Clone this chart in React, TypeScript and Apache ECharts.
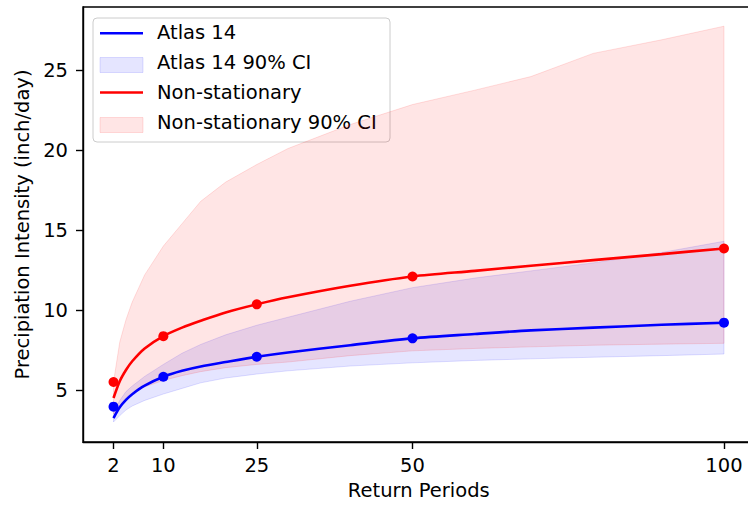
import React, { useEffect, useRef } from "react";
import * as echarts from "echarts";

// Return periods with plotted markers
const returnPeriods = [2, 10, 25, 50, 100];
const atlas14Points = [3.96, 5.83, 7.08, 8.23, 9.21];
const nonStationaryPoints = [5.5, 8.37, 10.36, 12.1, 13.85];

// Curves and confidence bands
const curveX = [2, 3, 4, 5, 7, 10, 13, 16, 20, 25, 30, 40, 50, 60, 69, 79, 90, 100];
const atlas14Curve = [3.25, 3.92, 4.38, 4.74, 5.27, 5.83, 6.2, 6.47, 6.75, 7.08, 7.35, 7.8, 8.23, 8.5, 8.73, 8.9, 9.08, 9.21];
const nonStationaryCurve = [4.5, 5.55, 6.25, 6.8, 7.6, 8.37, 8.9, 9.33, 9.85, 10.36, 10.8, 11.52, 12.1, 12.45, 12.77, 13.12, 13.5, 13.85];
const atlas14Lower = [3.0, 3.4, 3.75, 4.0, 4.35, 4.75, 5.1, 5.45, 5.75, 6.0, 6.2, 6.5, 6.7, 6.85, 6.95, 7.05, 7.15, 7.25];
const atlas14Upper = [3.6, 4.35, 4.9, 5.25, 5.85, 6.6, 7.3, 7.85, 8.45, 9.05, 9.55, 10.55, 11.4, 12.0, 12.45, 12.95, 13.6, 14.3];
const nsLower = [3.5, 3.95, 4.35, 4.75, 5.2, 5.6, 5.9, 6.15, 6.4, 6.6, 6.75, 7.15, 7.45, 7.6, 7.7, 7.8, 7.87, 7.92];
const nsUpper = [5.5, 8.0, 9.4, 10.5, 12.2, 14.0, 15.4, 16.8, 18.0, 19.1, 20.1, 21.6, 22.85, 23.75, 24.6, 26.05, 26.9, 27.75];

const xTicks = [2, 10, 25, 50, 100];
const yTicks = [5, 10, 15, 20, 25];

const legendLabels = ["Atlas 14", "Atlas 14 90% CI", "Non-stationary", "Non-stationary 90% CI"];

const FONT = "DejaVu Sans";
const FS = 19.5;

const pairs = (xs: number[], ys: number[]) => xs.map((x, i) => [x, ys[i]]);

function bandSeries(name: string, xs: number[], lo: number[], hi: number[], fill: string, stroke: string) {
  return {
    name,
    type: "custom",
    data: xs.map((x, i) => [x, lo[i], hi[i]]),
    encode: { x: 0, y: [1, 2] },
    z: 1,
    silent: true,
    renderItem: (params: any, api: any) => {
      if (params.dataIndex !== 0) return null;
      const top = xs.map((x, i) => api.coord([x, hi[i]]));
      const bottom = xs.map((x, i) => api.coord([x, lo[i]])).reverse();
      return {
        type: "polygon",
        shape: { points: top.concat(bottom) },
        style: { fill, stroke, lineWidth: 1 },
      };
    },
  };
}

export default function App() {
  const ref = useRef<HTMLDivElement>(null);
  useEffect(() => {
    if (!ref.current) return;
    const chart = echarts.init(ref.current, null, { renderer: "svg" });
    const blueFill = "rgba(0,0,255,0.1)";
    const redFill = "rgba(255,0,0,0.1)";
    const blueEdge = "rgba(0,0,255,0.12)";
    const redEdge = "rgba(255,0,0,0.12)";
    const legendRows = [33.3, 62.5, 92.5, 122.5];
    chart.setOption({
      animation: false,
      backgroundColor: "#ffffff",
      grid: {
        left: 83,
        top: 7,
        width: 671.5,
        height: 435,
        show: true,
        borderColor: "#000",
        borderWidth: 1.4,
        backgroundColor: "transparent",
        containLabel: false,
        outerBoundsMode: "none",
      },
      xAxis: {
        type: "value",
        min: -2.9,
        max: 104.9,
        name: "Return Periods",
        nameLocation: "middle",
        nameGap: 38,
        nameTextStyle: { fontFamily: FONT, fontSize: FS, color: "#000" },
        axisLine: { show: true, onZero: false, lineStyle: { color: "#000", width: 1.4 } },
        axisTick: { show: true, length: 7, lineStyle: { color: "#000", width: 1.4 }, customValues: xTicks },
        axisLabel: { fontFamily: FONT, fontSize: FS, color: "#000", margin: 13.5, customValues: xTicks },
        splitLine: { show: false },
      },
      yAxis: {
        type: "value",
        min: 1.75,
        max: 28.95,
        name: "Precipiation Intensity (inch/day)",
        nameLocation: "middle",
        nameGap: 51,
        nameRotate: 90,
        nameTextStyle: { fontFamily: FONT, fontSize: FS, color: "#000" },
        axisLine: { show: true, onZero: false, lineStyle: { color: "#000", width: 1.4 } },
        axisTick: { show: true, length: 7, lineStyle: { color: "#000", width: 1.4 }, customValues: yTicks },
        axisLabel: { fontFamily: FONT, fontSize: FS, color: "#000", margin: 15, customValues: yTicks },
        splitLine: { show: false },
      },
      series: [
        bandSeries("Atlas 14 90% CI", curveX, atlas14Lower, atlas14Upper, blueFill, blueEdge),
        bandSeries("Non-stationary 90% CI", curveX, nsLower, nsUpper, redFill, redEdge),
        {
          name: "Atlas 14",
          type: "line",
          data: pairs(curveX, atlas14Curve),
          symbol: "none",
          smooth: 0.3,
          lineStyle: { color: "#0000ff", width: 2.6 },
          z: 3,
        },
        {
          name: "Non-stationary",
          type: "line",
          data: pairs(curveX, nonStationaryCurve),
          symbol: "none",
          smooth: 0.3,
          lineStyle: { color: "#ff0000", width: 2.6 },
          z: 3,
        },
        {
          name: "Atlas 14 points",
          type: "scatter",
          data: pairs(returnPeriods, atlas14Points),
          symbolSize: 10,
          itemStyle: { color: "#0000ff", opacity: 1 },
          z: 4,
        },
        {
          name: "Non-stationary points",
          type: "scatter",
          data: pairs(returnPeriods, nonStationaryPoints),
          symbolSize: 10,
          itemStyle: { color: "#ff0000", opacity: 1 },
          z: 4,
        },
      ],
      graphic: [
        {
          type: "group",
          z: 100,
          children: [
            {
              type: "rect",
              shape: { x: 93, y: 18, width: 297, height: 124, r: 4 },
              style: { fill: "rgba(255,255,255,0.8)", stroke: "#cccccc", lineWidth: 1 },
            },
            {
              type: "line",
              shape: { x1: 100, y1: legendRows[0], x2: 143, y2: legendRows[0] },
              style: { stroke: "#0000ff", lineWidth: 2.6 },
            },
            {
              type: "rect",
              shape: { x: 100, y: legendRows[1] - 5, width: 43, height: 15 },
              style: { fill: blueFill, stroke: blueEdge, lineWidth: 1 },
            },
            {
              type: "line",
              shape: { x1: 100, y1: legendRows[2], x2: 143, y2: legendRows[2] },
              style: { stroke: "#ff0000", lineWidth: 2.6 },
            },
            {
              type: "rect",
              shape: { x: 100, y: legendRows[3] - 5, width: 43, height: 15 },
              style: { fill: redFill, stroke: redEdge, lineWidth: 1 },
            },
            ...legendLabels.map((t, i) => ({
              type: "text",
              x: 157,
              y: legendRows[i] - 0.5,
              style: {
                text: t,
                fill: "#000",
                font: `${FS}px "${FONT}"`,
                textAlign: "left",
                textVerticalAlign: "middle",
              },
            })),
          ],
        },
      ],
    });
    return () => chart.dispose();
  }, []);
  return (
    <div
      ref={ref}
      style={{ position: "fixed", left: 0, top: 0, width: 748, height: 506, background: "#fff" }}
    />
  );
}
